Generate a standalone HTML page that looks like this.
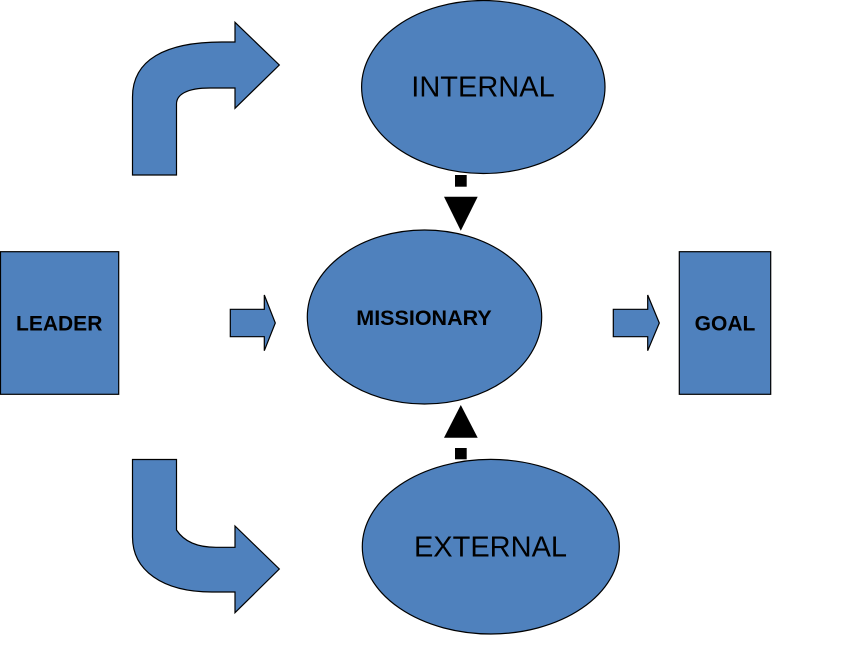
<!DOCTYPE html>
<html>
<head>
<meta charset="utf-8">
<style>
  html, body { margin: 0; padding: 0; background: #ffffff; }
  svg { display: block; }
  text { font-family: "Liberation Sans", Arial, sans-serif; fill: #000; }
</style>
</head>
<body>
<svg width="854" height="657" viewBox="0 0 854 657" xmlns="http://www.w3.org/2000/svg">
  <g fill="#4F81BD" stroke="#000" stroke-width="1.2">
    <!-- Top bent arrow -->
    <path d="M132.5,175 L132.5,97 C132.5,60 165,42 222,42 L235,42 L235,22.3 L279.3,65 L235,108.3 L235,88 L210,88 C186,88 176.5,95 176.5,104 L176.5,175 Z"/>
    <!-- Bottom bent arrow -->
    <path d="M132.5,459.5 L132.5,537 C132.5,570 162,592 212,592 L235,592 L235,612.7 L279.3,569 L235,526 L235,547.3 L216,547.3 C195,547.3 183,540 176.5,530 L176.5,459.5 Z"/>

    <!-- Ellipses -->
    <ellipse cx="483.3" cy="87" rx="121.7" ry="86.5"/>
    <ellipse cx="424.5" cy="317" rx="117.2" ry="87"/>
    <ellipse cx="490.8" cy="546.7" rx="128.5" ry="87.3"/>

    <!-- Rectangles -->
    <rect x="0.5" y="251.7" width="118.2" height="142.6"/>
    <rect x="679.3" y="251.7" width="91.4" height="142.6"/>

    <!-- Small right arrows -->
    <path d="M230.3,309.3 L264.3,309.3 L264.3,295 L275.3,323 L264.3,350.7 L264.3,336.7 L230.3,336.7 Z"/>
    <path d="M613.3,309.3 L647.7,309.3 L647.7,295 L659.3,323 L647.7,350.7 L647.7,336.7 L613.3,336.7 Z"/>
  </g>

  <!-- Dashed connectors with arrowheads -->
  <g fill="#000">
    <rect x="455" y="175" width="11.7" height="11.7"/>
    <polygon points="444,196.7 477.7,196.7 460.8,230.7"/>
    <polygon points="444,437.7 477.7,437.7 460.8,405"/>
    <rect x="455" y="448" width="11.7" height="11.3"/>
  </g>

  <!-- Labels -->
  <text x="483" y="96.7" font-size="29" text-anchor="middle">INTERNAL</text>
  <text x="424" y="325" font-size="21.5" font-weight="bold" text-anchor="middle">MISSIONARY</text>
  <text x="490.5" y="556.7" font-size="29" text-anchor="middle">EXTERNAL</text>
  <text x="59.2" y="330.7" font-size="21" font-weight="bold" text-anchor="middle">LEADER</text>
  <text x="725" y="330.7" font-size="21" font-weight="bold" text-anchor="middle">GOAL</text>
</svg>
</body>
</html>
